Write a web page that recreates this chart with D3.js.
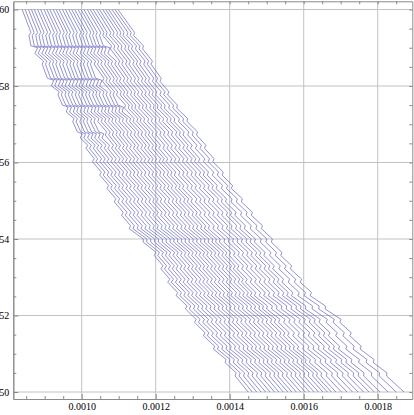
<!DOCTYPE html>
<html>
<head>
<meta charset="utf-8">
<title>Curves</title>
<script src="https://d3js.org/d3.v7.min.js"></script>
<style>
body { margin: 0; background: #fff; }
.lbl { font-family: "Liberation Serif", "Times New Roman", serif; font-size: 10px; fill: #000; }
</style>
</head>
<body>
<svg id="chart" width="414" height="415"></svg>
<script>
// where each curve starts (y = 60) and where it ends (y = 50)
var startX = [0.000839, 0.000847, 0.000856, 0.000864, 0.000872, 0.000881, 0.000889, 0.000898,
  0.000906, 0.000914, 0.000923, 0.000931, 0.000939, 0.000948, 0.000956, 0.000965,
  0.000973, 0.000981, 0.000990, 0.000998, 0.001006, 0.001015, 0.001023, 0.001031,
  0.001040, 0.001048, 0.001057, 0.001065, 0.001073, 0.001082, 0.001090, 0.001098];
var endX = [0.001450, 0.001461, 0.001473, 0.001485, 0.001497, 0.001509, 0.001521, 0.001533,
  0.001545, 0.001557, 0.001568, 0.001580, 0.001592, 0.001604, 0.001616, 0.001628,
  0.001640, 0.001652, 0.001664, 0.001675, 0.001687, 0.001702, 0.001717, 0.001732,
  0.001747, 0.001762, 0.001777, 0.001791, 0.001806, 0.001828, 0.001850, 0.001871];

// left-most and right-most curve, read down the y axis
var leftY = [60.00, 59.124, 58.497, 58.078, 57.425, 56.797, 56.065, 54.680, 54.288, 53.712, 52.745, 52.065, 51.281, 50.706, 50.00];
var leftX = [0.000839, 0.000868, 0.000901, 0.000922, 0.000960, 0.000995, 0.001031, 0.001109, 0.001131, 0.001193, 0.001244, 0.001293, 0.001347, 0.001398, 0.001450];
var rightY = [60.00, 59.595, 58.863, 58.288, 57.634, 56.850, 56.118, 55.359, 54.026, 53.399, 52.484, 51.882, 51.176, 50.00];
var rightX = [0.001098, 0.001125, 0.001176, 0.001206, 0.001244, 0.001306, 0.001352, 0.001406, 0.001509, 0.001555, 0.001625, 0.001698, 0.001752, 0.001871];

// y levels where the curves jog: width, drop, and how many curves (from the left) make a flat hop there
var jogY = [59.40, 59.05, 58.65, 58.20, 57.85, 57.50, 57.15, 56.80, 56.45, 56.10, 55.75, 55.40, 55.05,
  54.70, 54.35, 54.00, 53.65, 53.30, 52.95, 52.60, 52.25, 51.90, 51.55, 51.20, 50.85, 50.50];
var jogW = [0.8e-5, 1.8e-5, 0.8e-5, 1.7e-5, 0.8e-5, 1.5e-5, 0.8e-5, 1.3e-5, 0.9e-5, 0.9e-5, 0.9e-5, 0.9e-5, 0.9e-5,
  0.9e-5, 0.9e-5, 0.9e-5, 0.9e-5, 1.0e-5, 1.0e-5, 1.0e-5, 1.0e-5, 1.0e-5, 1.0e-5, 1.0e-5, 1.0e-5, 0.9e-5];
var jogD = [0.08, 0.20, 0.08, 0.20, 0.08, 0.18, 0.08, 0.16, 0.08, 0.08, 0.08, 0.08, 0.08,
  0.08, 0.08, 0.08, 0.08, 0.08, 0.08, 0.08, 0.08, 0.08, 0.08, 0.08, 0.08, 0.08];
var jogHop = [0, 22, 0, 15, 0, 17, 0, 7, 0, 0, 0, 0, 0, 0, 0, 0, 0, 0, 0, 0, 0, 0, 0, 0, 0, 0];

var xTicks = [0.0010, 0.0012, 0.0014, 0.0016, 0.0018];
var xMinor = [0.00085, 0.00090, 0.00095, 0.00105, 0.00110, 0.00115, 0.00125, 0.00130, 0.00135,
  0.00145, 0.00150, 0.00155, 0.00165, 0.00170, 0.00175, 0.00185];
var yTicks = [50, 52, 54, 56, 58, 60];
var yMinor = [50.5, 51, 51.5, 52.5, 53, 53.5, 54.5, 55, 55.5, 56.5, 57, 57.5, 58.5, 59, 59.5];

var svg = d3.select("#chart");
var x0 = 13.3, x1 = 412.3, y0 = 399, y1 = 1.3;

var x = d3.scaleLinear().domain([0.00081514, 0.0018935]).range([x0, x1]);
var y = d3.scaleLinear().domain([49.817, 60.214]).range([y0, y1]);

var left = d3.scaleLinear().domain(leftY).range(leftX);
var right = d3.scaleLinear().domain(rightY).range(rightX);

// grid
svg.append("g").selectAll("line").data(xTicks).enter().append("line")
  .attr("x1", function(d) { return x(d); }).attr("x2", function(d) { return x(d); })
  .attr("y1", y0).attr("y2", y1)
  .attr("stroke", "#c2c2c2").attr("stroke-width", 1);
svg.append("g").selectAll("line").data(yTicks).enter().append("line")
  .attr("y1", function(d) { return y(d); }).attr("y2", function(d) { return y(d); })
  .attr("x1", x0).attr("x2", x1)
  .attr("stroke", "#c2c2c2").attr("stroke-width", 1);

// curves
function curve(i) {
  var f0 = (startX[i] - leftX[0]) / (rightX[0] - leftX[0]);
  var f1 = (endX[i] - leftX[leftX.length - 1]) / (rightX[rightX.length - 1] - leftX[leftX.length - 1]);
  function env(v) {
    var f = f0 + (f1 - f0) * (60 - v) / 10;
    var l = left(v), r = right(v);
    return l + f * (r - l);
  }
  var pts = [[env(60), 60]];
  jogY.forEach(function(v, k) {
    var w = jogW[k], d = jogD[k];
    if (i < jogHop[k]) {
      pts.push([env(v) - w / 2, v]);
      pts.push([env(v) + w / 2, v - 0.05]);
    } else {
      if (jogHop[k]) { w = 0.8e-5; d = 0.08; }
      pts.push([env(v) + w / 2, v]);
    }
    pts.push([env(v - d) - w / 2, v - d]);
  });
  pts.push([env(50), 50]);
  return pts;
}

var line = d3.line()
  .x(function(d) { return x(d[0]); })
  .y(function(d) { return y(d[1]); });

svg.append("g").selectAll("path").data(d3.range(startX.length)).enter().append("path")
  .attr("d", function(i) { return line(curve(i)); })
  .attr("fill", "none")
  .attr("stroke", "#6464bc")
  .attr("stroke-width", 0.7);

// frame with ticks on all sides
function frame(g) {
  g.selectAll(".domain").attr("stroke", "#8a8a8a");
  g.selectAll(".tick line").attr("stroke", "#8a8a8a");
}

var bottom = svg.append("g").attr("transform", "translate(0," + y0 + ")");
bottom.call(d3.axisBottom(x).tickValues(xMinor).tickSize(-3).tickSizeOuter(0).tickFormat(""));
bottom.append("g").call(d3.axisBottom(x).tickValues(xTicks).tickSize(-5).tickSizeOuter(0)
  .tickPadding(4).tickFormat(d3.format(".4f")));
bottom.selectAll(".tick text").attr("class", "lbl").attr("font-size", null).attr("font-family", null);
bottom.call(frame);

var top_ = svg.append("g").attr("transform", "translate(0," + y1 + ")");
top_.call(d3.axisTop(x).tickValues(xMinor.concat(xTicks)).tickSize(-3).tickSizeOuter(0).tickFormat(""));
top_.call(frame);

var leftAx = svg.append("g").attr("transform", "translate(" + x0 + ",0)");
leftAx.call(d3.axisLeft(y).tickValues(yMinor).tickSize(-3).tickSizeOuter(0).tickFormat(""));
leftAx.append("g").call(d3.axisLeft(y).tickValues(yTicks).tickSize(-5).tickSizeOuter(0)
  .tickPadding(4).tickFormat(d3.format("d")));
leftAx.selectAll(".tick text").attr("class", "lbl").attr("font-size", null).attr("font-family", null);
leftAx.call(frame);

var rightAx = svg.append("g").attr("transform", "translate(" + x1 + ",0)");
rightAx.call(d3.axisRight(y).tickValues(yMinor.concat(yTicks)).tickSize(-3).tickSizeOuter(0).tickFormat(""));
rightAx.call(frame);
</script>
</body>
</html>
